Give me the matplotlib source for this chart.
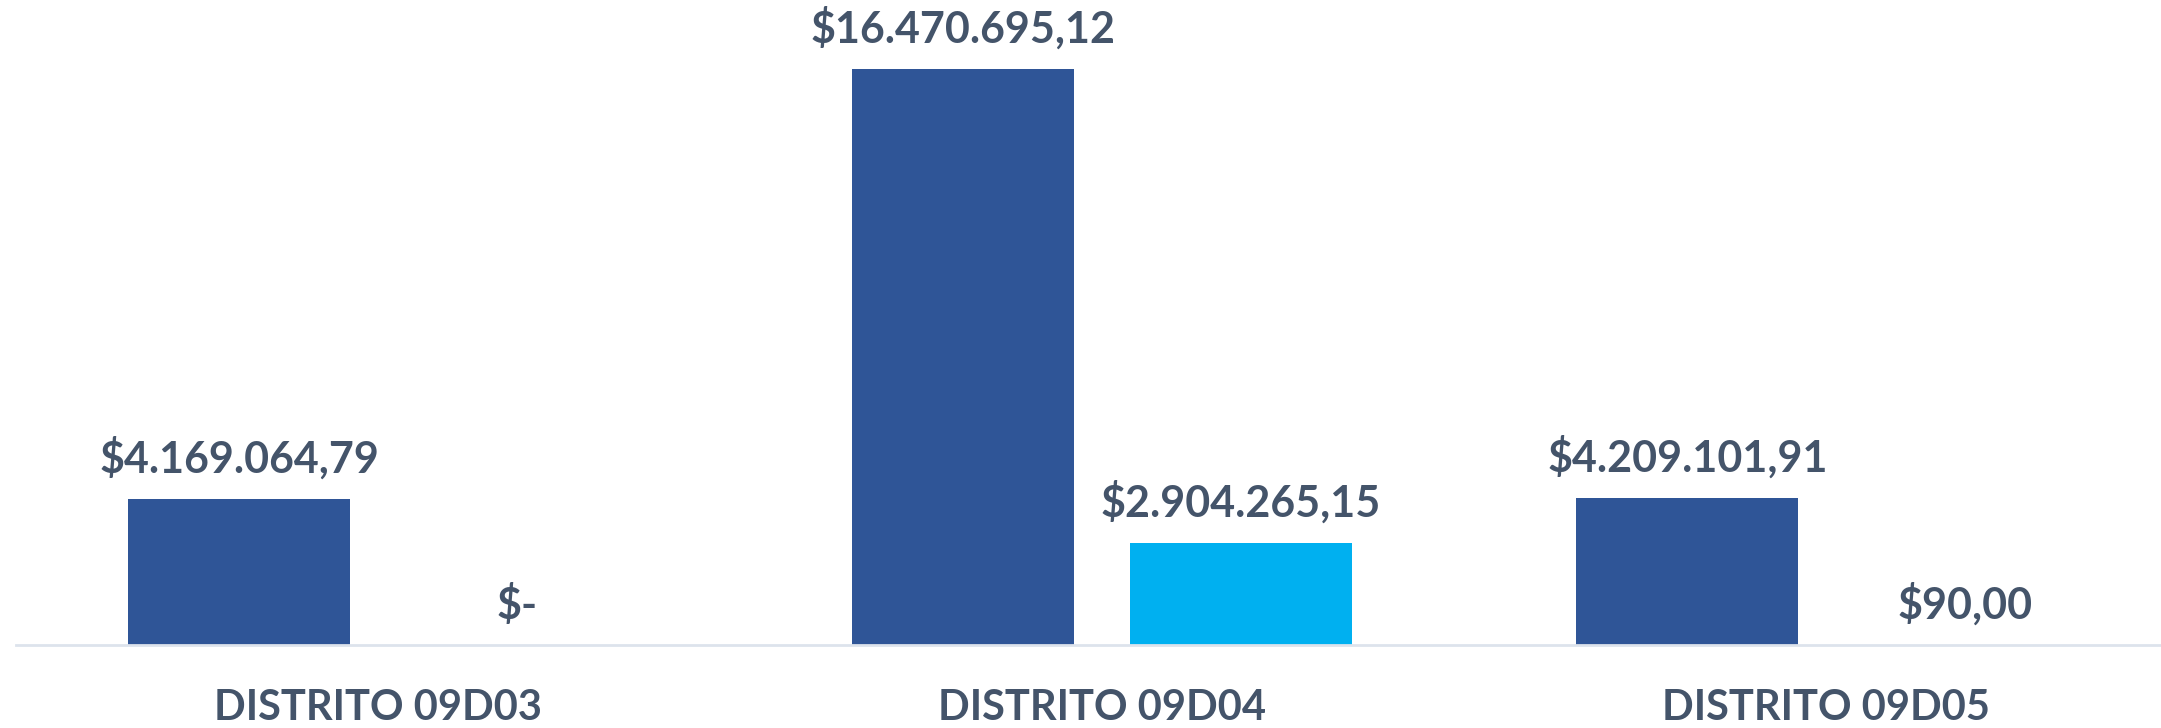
import matplotlib.pyplot as plt
import numpy as np

plt.rcParams['font.family'] = ['Lato', 'DejaVu Sans']

distritos = ["DISTRITO 09D03", "DISTRITO 09D04", "DISTRITO 09D05"]
serie1 = [4169064.79, 16470695.12, 4209101.91]
serie2 = [0.0, 2904265.15, 90.00]
etiquetas1 = ["$4.169.064,79", "$16.470.695,12", "$4.209.101,91"]
etiquetas2 = ["$-", "$2.904.265,15", "$90,00"]

azul = "#2F5597"
celeste = "#00B0F0"
texto = "#44546A"

fig = plt.figure(figsize=(21.61, 7.28), dpi=100)
ax = fig.add_axes([16 / 2161, 1 - 645 / 728, 2145 / 2161, 645 / 728])

x = np.arange(len(distritos))
ancho = 0.307
sep = 0.383

b1 = ax.bar(x - sep / 2, serie1, ancho, color=azul)
b2 = ax.bar(x + sep / 2, serie2, ancho, color=celeste)

ax.bar_label(b1, labels=etiquetas1, padding=14, fontsize=31,
             fontweight='bold', color=texto)
ax.bar_label(b2, labels=etiquetas2, padding=14, fontsize=31,
             fontweight='bold', color=texto)

ax.set_xlim(-0.5, -0.5 + 2145 / 724)
ax.set_ylim(0, 645 / 34.97 * 1e6)

ax.set_xticks(x)
ax.set_xticklabels(distritos, fontsize=30, fontweight='bold', color=texto)
ax.tick_params(axis='x', length=0, pad=32)
ax.set_yticks([])

for lado in ['top', 'right', 'left']:
    ax.spines[lado].set_visible(False)
ax.spines['bottom'].set_color('#DDE3EC')
ax.spines['bottom'].set_linewidth(2)

fig.savefig("out.png", dpi=100)
